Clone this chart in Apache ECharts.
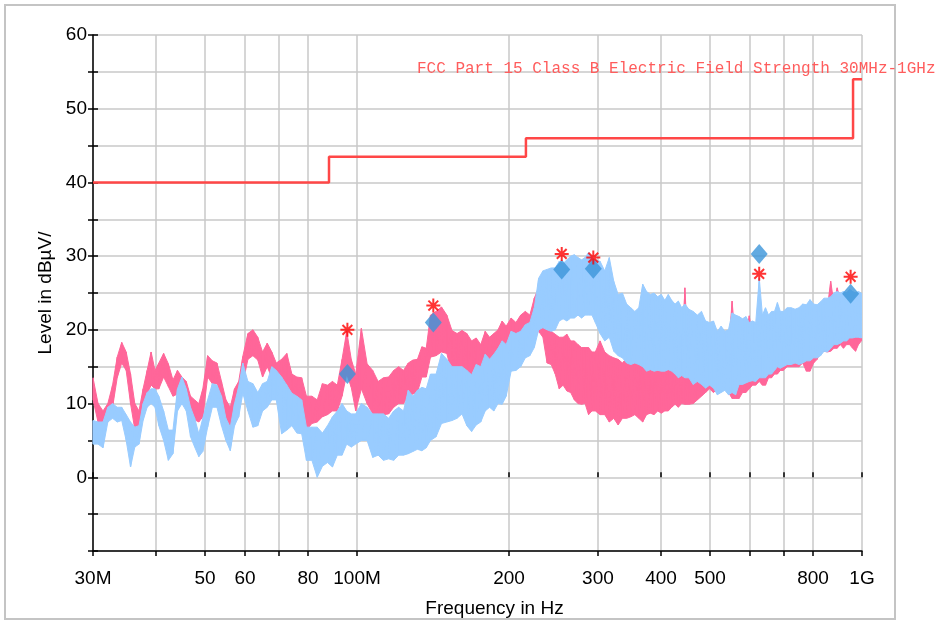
<!DOCTYPE html>
<html><head><meta charset="utf-8">
<script src="https://cdn.jsdelivr.net/npm/echarts@6/dist/echarts.min.js"></script>
<style>html,body{margin:0;padding:0;background:#fff}#c{width:940px;height:623px}</style>
</head><body><div id="c"></div>
<script>
// Sweep frequencies (MHz)
const FREQ_MHZ = [
  30, 30.7, 31.4, 32.1, 32.8, 33.5, 34.2, 34.9, 35.6, 36.3, 37, 37.7, 38.4, 39.1, 39.8,
  40.5, 41.4, 42.3, 43.2, 44.1, 45, 45.9, 46.8, 47.7, 48.6, 49.5,
  50.6, 51.7, 52.8, 53.9, 55, 56.1, 57.2, 58.3, 59.4,
  60.8, 62.2, 63.6, 65, 66.4, 67.8, 69.2,
  70.9, 72.6, 74.3, 76, 77.7, 79.4,
  81.4, 83.4, 85.4, 87.4, 89.4, 91.4, 93.4, 95.4, 97.4, 99.4,
  102, 104.7, 107.4, 110.1, 112.8, 115.5, 118.2, 120.9, 123.6, 126.3, 129, 131.7, 134.4, 137.1, 139.8,
  143.4, 147, 150.6, 154.2, 157.8, 161.4, 165, 168.6, 172.2, 175.8, 179.4, 183, 186.6, 190.2, 193.8, 197.4,
  201.9, 206.4, 210.9, 215.4, 219.9, 224.4, 228.9, 233.4, 237.9, 242.4, 246.9, 251.4, 255.9, 260.4, 264.9, 269.4, 273.9, 278.4, 282.9, 287.4, 291.9, 296.4,
  302.9, 309.4, 315.9, 322.4, 328.9, 335.4, 341.9, 348.4, 354.9, 361.4, 367.9, 374.4, 380.9, 387.4, 393.9, 400.4, 406.9, 413.4, 419.9, 426.4, 432.9, 439.4, 445.9,
  454, 463, 472, 481, 490, 499, 508, 517, 526, 535, 544, 553, 562, 571, 580, 589, 598, 607, 616, 626, 635, 644, 653, 662, 671, 680, 689, 698,
  711, 724, 737, 750, 763, 776, 789, 802, 815, 828, 841, 854, 867, 880, 893, 906, 919, 932, 945, 958, 971, 984, 997
];
// Pink trace: upper / lower extent of the noise at each sweep point (dBuV)
const PINK_HI = [
  13.5, 10, 9, 10, 12.5, 16.3, 18.3, 17, 14, 10, 9, 12, 14.5, 17, 14.5,
  15.5, 16.8, 15.4, 13.2, 14.5, 13.6, 13, 11, 10.5, 10, 12,
  16.5, 15.8, 15.5, 13, 10.5, 9.5, 12, 13, 16.4,
  19.5, 20, 19, 17, 18.2, 17, 15.5,
  16, 16.8, 14, 13.6, 13.5, 11,
  11, 10.5, 12.7, 12.5, 13, 12.5, 16, 19.8, 16, 14,
  20.2, 15.4, 14.5, 13, 13.5, 13.6, 14.5, 15, 14.5, 15.5, 15.9, 16, 17.7, 17.5, 22,
  22.5, 23.1, 22, 19.9, 19.5, 19.9, 19.5, 18.5, 18.9, 18, 19.8, 19, 19.5, 20, 21.2, 20.5,
  21.6, 21, 22, 22.5, 22, 24.3, 25.7, 24, 20, 19.8, 19.4, 19, 19, 19.4, 18.5, 18.5, 18, 17.6, 17.6, 17.6, 17, 17,
  18.5, 17, 16.5, 16.2, 16, 15.5, 16.2, 15.5, 16, 15.5, 16.2, 16, 16.7, 16, 16.7, 16, 15.8, 15.5, 15.3, 15, 15.3, 15, 25.7,
  15, 14.5, 14, 14.5, 13.5, 14, 15, 15.5, 16, 16, 17, 23.9, 18, 18.5, 18, 18.5, 21.9, 19, 19, 20, 19, 19.5, 20, 20, 19.5, 20, 20.5, 20.5,
  21, 21, 21, 21.5, 21, 21.5, 22, 22.5, 22, 22.5, 23, 23, 26.6, 23.5, 25.7, 24, 24, 24.5, 25, 24.5, 24.5, 24, 24
];
const PINK_LO = [
  10.5, 7.5, 6.8, 7.5, 9.5, 13.5, 15.5, 14.5, 10, 6.5, 5.5, 9, 11.3, 12.5, 12,
  12, 13.6, 12.3, 11, 11.3, 10.5, 10.5, 7.8, 7.8, 7.5, 8.2,
  13.6, 12.7, 12.7, 10.5, 7.5, 6.5, 9, 10, 12.7,
  16, 16.5, 15.9, 13.6, 15, 13.5, 11.8,
  12.7, 12.7, 10.5, 10, 10.5, 6.4,
  7.3, 7.5, 8.2, 8.5, 9, 9, 11, 14, 12.2, 9,
  12, 10, 8.6, 8.2, 8.5, 8.6, 9.5, 10, 10, 11, 11.3, 11.5, 13.6, 13.6, 16.3,
  16.5, 17, 16.8, 14, 14, 13.1, 12.5, 12.1, 11.7, 12, 14, 14.5, 14, 14.5, 14.4, 15,
  16.2, 16.5, 16.5, 17.1, 17.5, 19, 19.8, 19, 15.5, 15.3, 14, 12, 12.5, 11.7, 11.5, 10.5, 10, 9.9, 10, 8.5, 9, 9,
  8.5, 8.5, 7.5, 8, 7.1, 8, 8, 8.2, 8.5, 8, 7.5, 8.5, 8.7, 8.5, 9, 8.7, 9, 9, 9.5, 9.9, 9.5, 10, 9.9,
  9.9, 10, 10.5, 11, 11.5, 12, 11.5, 12, 12, 12.2, 11.5, 10.7, 10.7, 10.7, 11.5, 11.5, 12, 12.5, 12.5, 13, 12.5, 12.5, 13.5, 13.5, 14, 14, 14.5, 14.5,
  15, 15, 15, 15, 15.5, 14.4, 14.4, 15.5, 16, 17, 17.1, 17, 17.1, 17.5, 17.5, 18, 17.5, 18, 18, 17.5, 17.1, 18, 18.5
];
// Light blue trace
const BLUE_HI = [
  7.7, 7.5, 7.5, 9.5, 10, 9.5, 9.5, 8.5, 7.5, 6.8, 7, 10, 11.5, 12, 12,
  11, 9, 6.4, 6.4, 12, 13.6, 12, 9.5, 8, 5.9, 8,
  10.5, 12.7, 12.5, 11, 8, 6.8, 10, 12.3, 15.5,
  13, 12.7, 11.5, 12.7, 13, 15, 14.5,
  13.6, 12.5, 11.4, 11, 10.5, 6.8,
  6.8, 6.8, 6, 7, 8.2, 9, 10, 9, 8.6, 8.6,
  10, 9.5, 8.6, 8.6, 8.6, 8, 9, 9.5, 9, 11.8, 11, 11.8, 12.2, 12, 14,
  14, 16.8, 16, 15, 15, 15, 14.5, 13.9, 15.3, 15, 16.7, 16, 16.7, 17.5, 18.5, 18,
  19.8, 19.5, 19.8, 20.7, 21, 23, 27, 28, 28.2, 28.4, 28.4, 29.3, 29, 29.5, 30, 30.2, 29.8, 29.5, 29.8, 30.5, 29.8, 29.5,
  29.3, 28, 29.8, 26.6, 24.8, 25, 23.5, 23, 22.5, 23, 26.2, 25.2, 24.8, 25, 24.5, 24.8, 24, 24.8, 24, 23.5, 23.9, 23, 23.5,
  22.8, 22.5, 22, 22.5, 21.2, 21, 21.2, 19.8, 20.5, 19.8, 20, 22.3, 22, 21.8, 21.5, 21.8, 21, 21.2, 21, 27, 22, 23, 22, 22.5, 22.5, 23.7, 22.5, 22.5,
  23, 23, 22.8, 23, 23.5, 23.4, 24.1, 23.5, 23.4, 23.8, 24.3, 24.3, 24.5, 25, 25.2, 25, 25.2, 25, 25.5, 25.2, 25, 25.2, 25
];
const BLUE_LO = [
  4.5, 4.5, 4, 7.5, 8, 7.5, 7.7, 5, 1.4, 4.1, 4.5, 7.7, 9.5, 10, 9.5,
  7, 5, 2.3, 3.2, 9, 10, 9, 5.5, 4.1, 2.8, 3.5,
  6.8, 9.5, 9.5, 7, 5, 3.6, 7, 8.2, 11.4,
  9, 6.8, 7, 9, 9.5, 10.5, 10.5,
  5.9, 6.4, 7, 6, 5.9, 2.3,
  2.3, 0, 1.5, 2, 1.4, 3, 3, 4.5, 4.1, 4.5,
  5, 5, 2.7, 3, 2.3, 2.5, 2.3, 3, 3, 3.2, 3.5, 3.8, 3.6, 4, 5,
  5.5, 7.3, 7.5, 7.7, 8, 8.6, 7, 6.2, 7.1, 7.5, 9, 9.5, 9, 10, 9.9, 11,
  14.4, 14.5, 15, 16.2, 16.5, 17.6, 20, 20.3, 20, 19.8, 20, 21.2, 21.5, 21.2, 21.6, 21.6, 22, 21.6, 22, 22, 22, 21,
  19.5, 18.5, 19, 17.1, 16.5, 16.2, 15.5, 15.3, 15.5, 15.3, 15, 14.4, 14.6, 14.4, 14.5, 14.4, 14.4, 14.6, 14.4, 14, 13.5, 13.8, 13.5,
  13.5, 12.6, 13, 12.6, 12.1, 12.5, 12.1, 11.2, 11.5, 11.8, 11.2, 11.5, 11.2, 12.6, 12.6, 12.8, 13, 13.1, 13, 13.5, 13.5, 13.5, 14, 14, 14.5, 15, 14.8, 15,
  15.3, 15.3, 15.5, 15.3, 15.5, 15.8, 15.8, 16.2, 16.2, 16.5, 17.1, 17, 17.5, 18, 18, 18.2, 18.5, 18.5, 18.9, 18.9, 19, 19, 18.9
];
// Limit line (FCC Part 15 Class B)
const LIMIT_FREQ = [30, 88, 88, 216, 216, 960, 960, 1000];
const LIMIT_DB = [40, 40, 43.5, 43.5, 46, 46, 54, 54];
const LIMIT_NAME = 'FCC Part 15 Class B Electric Field Strength 30MHz-1GHz';
// Markers
const MARK_FREQ = [95.7, 141.6, 254.3, 293.7, 625.8, 949.5];
const PEAK_DB = [20.0, 23.3, 30.3, 29.8, 27.6, 27.2];
const QP_DB = [14.0, 21.0, 28.2, 28.3, 30.3, 24.9];
// Axes
const X_TICKS = [30, 40, 50, 60, 70, 80, 100, 200, 300, 400, 500, 600, 700, 800, 1000];
const X_LABEL_VALUES = [30, 50, 60, 80, 100, 200, 300, 400, 500, 800, 1000];
const X_LABEL_TEXT = ['30M', '50', '60', '80', '100M', '200', '300', '400', '500', '800', '1G'];
const Y_LABELS = [0, 10, 20, 30, 40, 50, 60];
const X_NAME = 'Frequency in Hz';
const Y_NAME = 'Level in dB\u00b5V/';

const lg = v => Math.log10(v);
const XMIN = lg(30), XMAX = lg(1000);
const FONT = 'Liberation Sans, Arial, sans-serif';

// Raw sweep trace: each point goes to its upper then lower extent
function traceSeries(name, hi, lo, color, z) {
  const d = [];
  FREQ_MHZ.forEach((f, i) => { d.push([lg(f), hi[i]]); d.push([lg(f), lo[i]]); });
  return { type: 'line', name, data: d, symbol: 'none', z, silent: true, lineStyle: { color, width: 1.2 } };
}
// Noise band: filled region between the extents, placed with api.coord
function bandSeries(name, hi, lo, color, z) {
  return {
    type: 'custom', name, z, clip: true, silent: true,
    data: FREQ_MHZ.map((f, i) => [lg(f), hi[i], lo[i]]),
    encode: { x: 0, y: [1, 2] },
    renderItem: (params, api) => {
      if (params.dataIndex !== 0) return null;
      const pts = [];
      for (let i = 0; i < FREQ_MHZ.length; i++) pts.push(api.coord([lg(FREQ_MHZ[i]), hi[i]]));
      for (let i = FREQ_MHZ.length - 1; i >= 0; i--) pts.push(api.coord([lg(FREQ_MHZ[i]), lo[i]]));
      return { type: 'polygon', shape: { points: pts }, style: { fill: color, stroke: color, lineWidth: 1 } };
    }
  };
}

const chart = echarts.init(document.getElementById('c'));
chart.setOption({
  animation: false,
  backgroundColor: '#fff',
  title: {
    text: LIMIT_NAME, left: 417, top: 61, padding: 0,
    textStyle: { fontFamily: 'Liberation Mono, monospace', fontSize: 16, fontWeight: 'normal', color: '#ff5c5c' }
  },
  graphic: [{
    type: 'rect', silent: true, z: -10,
    shape: { x: 5, y: 5, width: 890, height: 614 },
    style: { fill: 'none', stroke: '#c4c4c4', lineWidth: 2 }
  }],
  grid: { left: 93, right: 78, top: 35, bottom: 72 },
  xAxis: [{
    type: 'value', min: XMIN, max: XMAX,
    name: X_NAME, nameLocation: 'middle', nameGap: 48,
    nameTextStyle: { fontFamily: FONT, fontSize: 19, color: '#000', padding: [0, 0, 0, 34] },
    axisLine: { show: true, onZero: false, lineStyle: { color: '#000', width: 1.5 } },
    axisTick: { show: true, length: 5, customValues: X_TICKS.map(lg), lineStyle: { color: '#000', width: 1.5 } },
    axisLabel: {
      customValues: X_LABEL_VALUES.map(lg), margin: 18,
      fontFamily: FONT, fontSize: 19, color: '#000',
      formatter: v => { const f = Math.round(Math.pow(10, v)); const i = X_LABEL_VALUES.indexOf(f); return i >= 0 ? X_LABEL_TEXT[i] : ''; }
    },
    splitLine: { show: true, lineStyle: { color: '#c8c8c8', width: 1.5 } }
  }, {
    type: 'value', min: XMIN, max: XMAX, position: 'bottom', gridIndex: 0,
    axisLine: { show: false }, axisLabel: { show: false }, splitLine: { show: false },
    axisTick: { show: true, inside: true, length: 5, customValues: X_TICKS.map(lg), lineStyle: { color: '#000', width: 1.5 } }
  }],
  yAxis: [{
    type: 'value', min: -10, max: 60, interval: 5,
    name: Y_NAME, nameLocation: 'middle', nameGap: 32, nameRotate: 90,
    nameTextStyle: { fontFamily: FONT, fontSize: 19, color: '#000' },
    axisLine: { show: true, onZero: false, lineStyle: { color: '#000', width: 1.5 } },
    axisTick: { show: true, length: 5, lineStyle: { color: '#000', width: 1.5 } },
    axisLabel: { customValues: Y_LABELS, margin: 6, fontFamily: FONT, fontSize: 19, color: '#000' },
    splitLine: { show: true, lineStyle: { color: '#c8c8c8', width: 1.5 } }
  }, {
    type: 'value', min: -10, max: 60, interval: 5, position: 'left', gridIndex: 0,
    axisLine: { show: false }, axisLabel: { show: false }, splitLine: { show: false },
    axisTick: { show: true, inside: true, length: 5, lineStyle: { color: '#000', width: 1.5 } }
  }],
  series: [
    bandSeries('trace1 band', PINK_HI, PINK_LO, '#ff6699', 2),
    traceSeries('trace1', PINK_HI, PINK_LO, '#ff6699', 2),
    bandSeries('trace2 band', BLUE_HI, BLUE_LO, '#99ccff', 3),
    traceSeries('trace2', BLUE_HI, BLUE_LO, '#99ccff', 3),
  {
    type: 'line', name: 'limit', data: LIMIT_FREQ.map((f, i) => [lg(f), LIMIT_DB[i]]), symbol: 'none', z: 4,
    lineStyle: { color: '#ff4747', width: 2.5 }
  }, {
    type: 'scatter', name: 'qp', data: MARK_FREQ.map((f, i) => [lg(f), QP_DB[i]]), z: 5,
    symbol: 'diamond', symbolSize: [17, 20], itemStyle: { color: '#3b95da' }
  }, {
    type: 'scatter', name: 'peak', data: MARK_FREQ.map((f, i) => [lg(f), PEAK_DB[i]]), z: 6,
    symbol: 'path://M10,0L10,20M0,10L20,10M3,3L17,17M3,17L17,3', symbolSize: 14,
    itemStyle: { color: 'rgba(0,0,0,0)', borderColor: '#ff0000', borderWidth: 2 }
  }]
});
</script>
</body></html>
